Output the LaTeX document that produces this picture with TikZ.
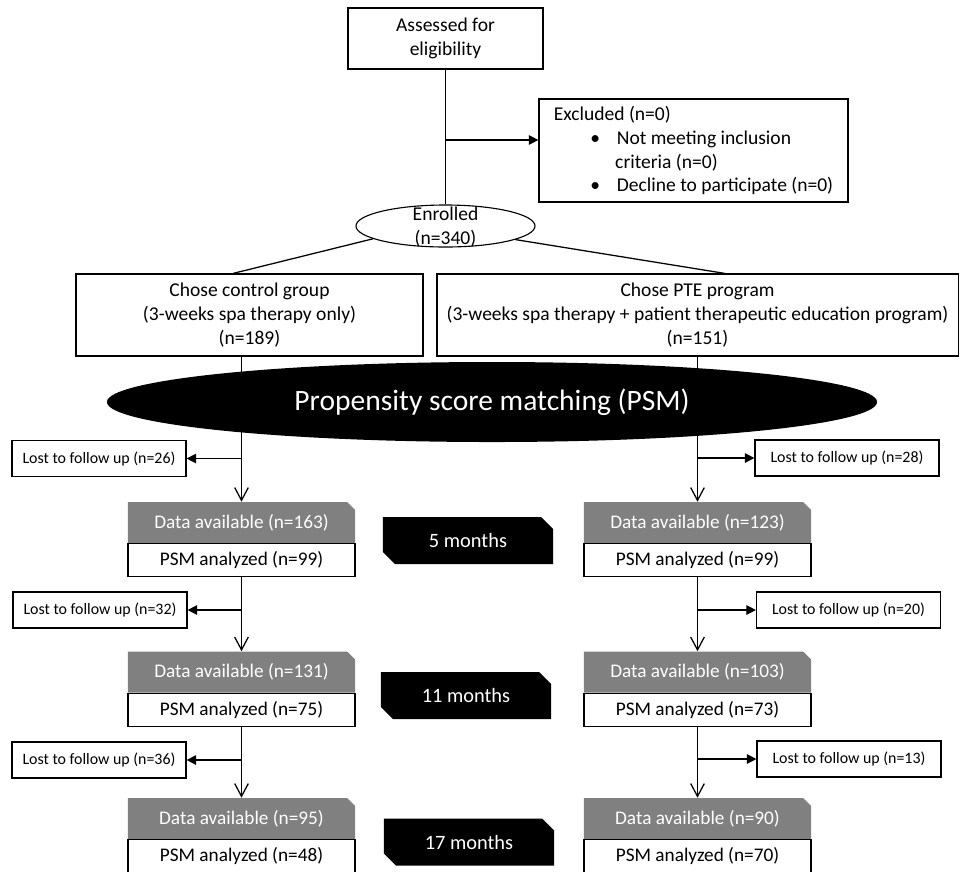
\documentclass[tikz,border=0pt]{standalone}
\usepackage{fontspec}
\setmainfont{Carlito}
\usetikzlibrary{positioning,arrows.meta,shapes.geometric,shapes.misc,calc}

\definecolor{availgrey}{RGB}{128,128,128}

\tikzset{
  box/.style={draw, rectangle, line width=0.8pt, align=center, inner sep=2pt, font=\fontsize{13.9}{17}\selectfont},
  lostbox/.style={draw, rectangle, line width=0.8pt, minimum height=0.9cm, inner sep=2pt, font=\fontsize{11.3}{13}\selectfont},
  availbox/.style={chamfered rectangle, chamfered rectangle corners=north east, chamfered rectangle xsep=0.1cm, chamfered rectangle ysep=0.1cm, fill=availgrey, text=white, minimum width=5.675cm, minimum height=1.025cm, inner sep=0pt, font=\fontsize{13.7}{16}\selectfont},
  analbox/.style={draw, rectangle, line width=0.8pt, fill=white, minimum width=5.675cm, minimum height=0.825cm, inner sep=0pt, font=\fontsize{13.7}{16}\selectfont},
  monthbox/.style={chamfered rectangle, chamfered rectangle corners={north east, south west}, chamfered rectangle xsep=0.15cm, chamfered rectangle ysep=0.15cm, fill=black, text=white, minimum width=4.25cm, minimum height=1.175cm, inner sep=0pt, font=\fontsize{14.5}{17}\selectfont},
  flow/.style={line width=0.9pt},
  down/.style={flow, -{Straight Barb[length=0.32cm, width=0.34cm]}},
  side/.style={flow, -{Triangle[length=0.24cm, width=0.24cm]}}
}

\begin{document}
\begin{tikzpicture}[x=0.025cm, y=-0.025cm]
    \useasboundingbox (0,0) rectangle (960,871);

    % Enrolment
    \node[box, minimum width=4.875cm, minimum height=1.525cm] (assess) at (445.5,38.5) {Assessed for\\eligibility};
    \node[box, align=left, minimum width=7.725cm, minimum height=2.575cm] (excl) at (693.5,150.5)
        {Excluded (n=0)\\
         \hspace*{26pt}\textbullet\hspace{12pt}Not meeting inclusion\\
         \hspace*{43.7pt}criteria (n=0)\\
         \hspace*{26pt}\textbullet\hspace{12pt}Decline to participate (n=0)};
    \node[draw, ellipse, line width=0.8pt, minimum width=4.475cm, minimum height=1.05cm, inner sep=0pt, font=\fontsize{13.9}{17}\selectfont] (enrol) at (445.5,226)
        {\smash{\raisebox{-5pt}{\begin{tabular}[c]{@{}c@{}}Enrolled\\(n=340)\end{tabular}}}};

    % Groups
    \node[box, minimum width=8.675cm, minimum height=2.05cm] (ctrl) at (249.5,315)
        {Chose control group\\(3-weeks spa therapy only)\\(n=189)};
    \node[box, minimum width=13.025cm, minimum height=2.05cm] (pte) at (697.5,315)
        {Chose PTE program\\(3-weeks spa therapy + patient therapeutic education program)\\(n=151)};

    % Follow up, control side
    \node[lostbox, minimum width=4.35cm] (lostL1) at (99,458.5) {Lost to follow up (n=26)};
    \node[availbox] (availL1) at (241.5,522.5) {Data available (n=163)};
    \node[analbox, below=0pt of availL1] (analL1) {PSM analyzed (n=99)};
    \node[lostbox, minimum width=4.35cm] (lostL2) at (100,610) {Lost to follow up (n=32)};
    \node[availbox] (availL2) at (241.5,672) {Data available (n=131)};
    \node[analbox, below=0pt of availL2] (analL2) {PSM analyzed (n=75)};
    \node[lostbox, minimum width=4.35cm] (lostL3) at (99,760) {Lost to follow up (n=36)};
    \node[availbox] (availL3) at (241.5,818.5) {Data available (n=95)};
    \node[analbox, below=0pt of availL3] (analL3) {PSM analyzed (n=48)};

    % Follow up, PTE side
    \node[lostbox, minimum width=4.6cm] (lostR1) at (847,458) {Lost to follow up (n=28)};
    \node[availbox] (availR1) at (697.5,522.5) {Data available (n=123)};
    \node[analbox, below=0pt of availR1] (analR1) {PSM analyzed (n=99)};
    \node[lostbox, minimum width=4.6cm] (lostR2) at (848.5,610) {Lost to follow up (n=20)};
    \node[availbox] (availR2) at (697.5,672) {Data available (n=103)};
    \node[analbox, below=0pt of availR2] (analR2) {PSM analyzed (n=73)};
    \node[lostbox, minimum width=4.6cm] (lostR3) at (849,759) {Lost to follow up (n=13)};
    \node[availbox] (availR3) at (697.5,818.5) {Data available (n=90)};
    \node[analbox, below=0pt of availR3] (analR3) {PSM analyzed (n=70)};

    % Time points
    \node[monthbox] (m5) at (468,540.5) {5 months};
    \node[monthbox] (m11) at (466,695.5) {11 months};
    \node[monthbox] (m17) at (469,842) {17 months};

    % Connectors
    \coordinate (excltip) at ($(excl.west)+(0,-10.5)$);
    \draw[flow] (assess.south) -- (enrol.north);
    \draw[side] (assess.south |- excltip) -- (excltip);
    \draw[flow] (enrol.190) -- ($(ctrl.north)+(-16.5,0)$);
    \draw[flow] (enrol.349) -- ($(pte.north)+(27.5,0)$);

    \draw[down] (availL1.north |- ctrl.south) -- (availL1.north);
    \draw[down] (analL1.south) -- (availL2.north);
    \draw[down] (analL2.south) -- (availL3.north);
    \draw[side] (availL1.north |- lostL1.east) -- (lostL1.east);
    \draw[side] (analL1.south |- lostL2.east) -- (lostL2.east);
    \draw[side] (analL2.south |- lostL3.east) -- (lostL3.east);

    \draw[down] (availR1.north |- pte.south) -- (availR1.north);
    \draw[down] (analR1.south) -- (availR2.north);
    \draw[down] (analR2.south) -- (availR3.north);
    \draw[side] (availR1.north |- lostR1.west) -- (lostR1.west);
    \draw[side] (analR1.south |- lostR2.west) -- (lostR2.west);
    \draw[side] (analR2.south |- lostR3.west) -- (lostR3.west);

    % Matching band over the lines
    \node[ellipse, fill=black, text=white, minimum width=19.25cm, minimum height=2cm, font=\fontsize{21}{24}\selectfont] (psm) at (492,402) {Propensity score matching (PSM)};
\end{tikzpicture}
\end{document}
